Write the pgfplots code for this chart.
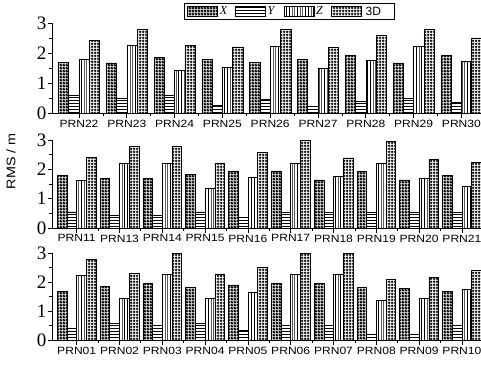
\documentclass[border=0pt]{standalone}
\usepackage{fontspec}
\setmainfont{Liberation Serif}
\newfontfamily\lblfont[FakeStretch=1.15]{Liberation Sans}
\newfontfamily\sansfont{Liberation Sans}
\usepackage{pgfplots}
\usepackage{pgfplotstable}
\pgfplotsset{compat=1.18}
\usetikzlibrary{patterns}

\pgfdeclarepatternformonly{chk}{\pgfqpoint{0pt}{0pt}}{\pgfqpoint{3pt}{3pt}}{\pgfqpoint{3pt}{3pt}}{%
  \pgfseteorule
  \pgfpathrectangle{\pgfqpoint{0pt}{0pt}}{\pgfqpoint{3pt}{3pt}}%
  \pgfpathrectangle{\pgfqpoint{0.35pt}{0.35pt}}{\pgfqpoint{0.9pt}{0.9pt}}%
  \pgfpathrectangle{\pgfqpoint{1.85pt}{1.85pt}}{\pgfqpoint{0.9pt}{0.9pt}}%
  \pgfusepath{fill}}
\pgfdeclarepatternformonly{hl}{\pgfqpoint{0pt}{0pt}}{\pgfqpoint{100pt}{1pt}}{\pgfqpoint{100pt}{3pt}}{%
  \pgfsetlinewidth{1pt}%
  \pgfpathmoveto{\pgfqpoint{0pt}{0.5pt}}\pgfpathlineto{\pgfqpoint{100pt}{0.5pt}}%
  \pgfusepath{stroke}}
\pgfdeclarepatternformonly{vl}{\pgfqpoint{0pt}{0pt}}{\pgfqpoint{1pt}{100pt}}{\pgfqpoint{2.7pt}{100pt}}{%
  \pgfsetlinewidth{0.9pt}%
  \pgfpathmoveto{\pgfqpoint{0.5pt}{0pt}}\pgfpathlineto{\pgfqpoint{0.5pt}{100pt}}%
  \pgfusepath{stroke}}
\pgfdeclarepatternformonly{grd}{\pgfqpoint{0pt}{0pt}}{\pgfqpoint{2.6pt}{2.6pt}}{\pgfqpoint{2.6pt}{2.6pt}}{%
  \pgfsetlinewidth{1.1pt}%
  \pgfpathmoveto{\pgfqpoint{1.3pt}{0pt}}\pgfpathlineto{\pgfqpoint{1.3pt}{2.6pt}}%
  \pgfpathmoveto{\pgfqpoint{0pt}{1.3pt}}\pgfpathlineto{\pgfqpoint{2.6pt}{1.3pt}}%
  \pgfusepath{stroke}}

\pgfplotstableread{
x X Y Z D
0 1.69 0.58 1.80 2.41
1 1.67 0.48 2.24 2.78
2 1.86 0.58 1.41 2.26
3 1.78 0.27 1.53 2.20
4 1.69 0.47 2.22 2.78
5 1.78 0.24 1.48 2.18
6 1.94 0.39 1.76 2.58
7 1.67 0.48 2.22 2.78
8 1.91 0.37 1.71 2.50
}\toptab
\pgfplotstableread{
x X Y Z D
0 1.79 0.55 1.63 2.41
1 1.69 0.43 2.20 2.79
2 1.68 0.42 2.20 2.79
3 1.82 0.55 1.36 2.21
4 1.95 0.36 1.73 2.57
5 1.95 0.52 2.20 2.99
6 1.64 0.53 1.76 2.39
7 1.93 0.52 2.19 2.96
8 1.64 0.53 1.70 2.34
9 1.79 0.53 1.42 2.25
}\midtab
\pgfplotstableread{
x X Y Z D
0 1.68 0.42 2.22 2.79
1 1.84 0.56 1.45 2.30
2 1.94 0.50 2.25 3.00
3 1.82 0.56 1.43 2.28
4 1.90 0.33 1.66 2.50
5 1.94 0.50 2.25 3.00
6 1.94 0.50 2.25 3.00
7 1.82 0.19 1.37 2.10
8 1.78 0.19 1.44 2.15
9 1.67 0.50 1.74 2.39
}\bottab

\pgfplotsset{
  /pgfplots/ybar legend/.style={/pgfplots/legend image code/.code={%
      \draw[##1] (0pt,-5pt) rectangle (30pt,5pt);}},
  panel/.style={
    scale only axis,
    width=429pt,
    ybar=0pt,
    ymin=0, ymax=3,
    ytick={0,1,2,3},
    minor y tick num=1,
    axis x line*=bottom,
    axis y line*=left,
    tick align=outside,
    major tick length=4.5pt,
    minor tick length=3pt,
    axis line style={line width=0.9pt},
    every tick/.style={line width=0.8pt, black},
    xtick=data,
    /pgf/number format/assume math mode=true,
    yticklabel style={font=\fontsize{19}{19}\selectfont, inner sep=1pt},
    xticklabel style={font=\lblfont\fontsize{10.5}{12}\selectfont, inner sep=2pt},
    clip=true,
  },
  bX/.style={draw=black, line width=0.6pt, pattern=chk, pattern color=black},
  bY/.style={draw=black, line width=0.6pt, pattern=hl, pattern color=black},
  bZ/.style={draw=black, line width=0.6pt, pattern=vl, pattern color=black},
  bD/.style={draw=black, line width=0.6pt, pattern=grd, pattern color=black},
}

\begin{document}
\begin{tikzpicture}
\useasboundingbox (0pt,0pt) rectangle (481pt,368pt);

% top panel
\begin{axis}[panel,
  at={(52pt,255pt)}, anchor=south west, height=90pt,
  bar width=10.3pt,
  xmin=-0.565, xmax=8.41,
  xticklabels={PRN22,PRN23,PRN24,PRN25,PRN26,PRN27,PRN28,PRN29,PRN30},
  minor xtick={0.5,1.5,...,7.5},
  legend columns=4,
  legend style={at={(0.5536,1.125)}, anchor=center, draw=black, line width=0.9pt,
    font=\fontsize{12}{12}\selectfont, inner ysep=1pt},
]
\addplot[bX] table[x=x,y=X] {\toptab};
\addplot[bY] table[x=x,y=Y] {\toptab};
\addplot[bZ] table[x=x,y=Z] {\toptab};
\addplot[bD] table[x=x,y=D] {\toptab};
\addlegendentry{\makebox[13pt][l]{\textit{X}}}
\addlegendentry{\makebox[14pt][l]{\textit{Y}}}
\addlegendentry{\makebox[13pt][l]{\textit{Z}}}
\addlegendentry{\makebox[26pt][l]{\hspace*{2pt}\sansfont 3D}}
\end{axis}

% middle panel
\begin{axis}[panel,
  at={(52pt,140pt)}, anchor=south west, height=88pt,
  bar width=9.7pt,
  xmin=-0.577, xmax=9.446,
  xticklabels={PRN11,PRN13,PRN14,PRN15,PRN16,PRN17,PRN18,PRN19,PRN20,PRN21},
  minor xtick={0.5,1.5,...,8.5},
  ylabel={RMS / m},
  ylabel style={at={(axis description cs:-0.0956,0.76)}, anchor=center,
    font=\lblfont\fontsize{12.5}{13}\selectfont},
]
\addplot[bX] table[x=x,y=X] {\midtab};
\addplot[bY] table[x=x,y=Y] {\midtab};
\addplot[bZ] table[x=x,y=Z] {\midtab};
\addplot[bD] table[x=x,y=D] {\midtab};
\end{axis}

% bottom panel
\begin{axis}[panel,
  at={(52pt,28pt)}, anchor=south west, height=87pt,
  bar width=9.7pt,
  xmin=-0.577, xmax=9.446,
  xticklabels={PRN01,PRN02,PRN03,PRN04,PRN05,PRN06,PRN07,PRN08,PRN09,PRN10},
  minor xtick={0.5,1.5,...,8.5},
]
\addplot[bX] table[x=x,y=X] {\bottab};
\addplot[bY] table[x=x,y=Y] {\bottab};
\addplot[bZ] table[x=x,y=Z] {\bottab};
\addplot[bD] table[x=x,y=D] {\bottab};
\end{axis}
\end{tikzpicture}
\end{document}
